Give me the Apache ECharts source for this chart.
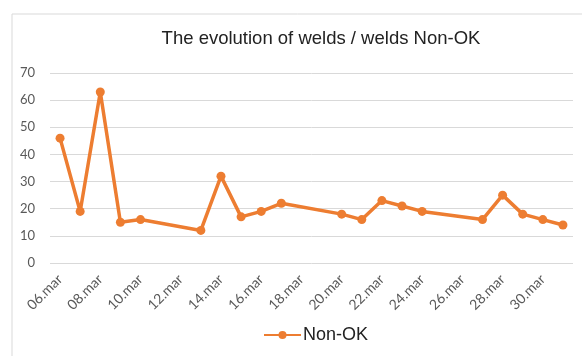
<!DOCTYPE html>
<html>
<head>
<meta charset="utf-8">
<script src="https://cdn.jsdelivr.net/npm/echarts@6/dist/echarts.min.js"></script>
<style>
  html, body { margin: 0; padding: 0; background: #fff; }
  #chart { width: 582px; height: 356px; }
</style>
</head>
<body>
<div id="chart"></div>
<script>
// Days of March shown on the axis (one slot per day)
const days = ['06.mar','07.mar','08.mar','09.mar','10.mar','11.mar','12.mar','13.mar',
  '14.mar','15.mar','16.mar','17.mar','18.mar','19.mar','20.mar','21.mar','22.mar',
  '23.mar','24.mar','25.mar','26.mar','27.mar','28.mar','29.mar','30.mar','31.mar'];

// Non-OK welds per day (null = no record that day)
const nonOk = [46, 19, 63, 15, 16, null, null, 12, 32, 17, 19, 22, null, null,
  18, 16, 23, 21, 19, null, null, 16, 25, 18, 16, 14];

const yTicks = { min: 0, max: 70, interval: 10 };

const chart = echarts.init(document.getElementById('chart'), null, { renderer: 'canvas' });
chart.setOption({
  backgroundColor: '#ffffff',
  animation: false,
  graphic: [{
    type: 'rect',
    shape: { x: 12, y: 14, width: 700, height: 400 },
    style: { fill: 'none', stroke: '#d9d9d9', lineWidth: 1 },
    silent: true
  }],
  title: {
    text: 'The evolution of welds / welds Non-OK',
    left: 316,
    textAlign: 'center',
    top: 24,
    textStyle: { fontFamily: 'Liberation Sans', fontSize: 18.5, fontWeight: 'normal', color: '#222' }
  },
  grid: { left: 50, right: 9, top: 73, bottom: 93, containLabel: false },
  xAxis: {
    type: 'category',
    data: days,
    boundaryGap: true,
    axisLine: { show: false },
    axisTick: { show: false },
    axisLabel: {
      interval: 1,
      rotate: 45,
      margin: 14,
      color: '#595959',
      fontFamily: 'Lato',
      fontSize: 14
    }
  },
  yAxis: {
    type: 'value',
    min: yTicks.min,
    max: yTicks.max,
    interval: yTicks.interval,
    axisLine: { show: false },
    axisTick: { show: false },
    axisLabel: { color: '#595959', fontFamily: 'Lato', fontSize: 13, margin: 15 },
    splitLine: { lineStyle: { color: '#d9d9d9', width: 1 } }
  },
  legend: {
    top: 326,
    left: 263,
    padding: 0,
    itemWidth: 37,
    itemHeight: 10,
    itemGap: 4,
    textStyle: { fontFamily: 'Liberation Sans', fontSize: 18, color: '#222', padding: [0, 0, 0, -3] },
    data: ['Non-OK']
  },
  series: [{
    name: 'Non-OK',
    type: 'line',
    data: nonOk,
    connectNulls: true,
    symbol: 'circle',
    symbolSize: 9,
    lineStyle: { color: '#ED7D31', width: 3.5 },
    itemStyle: { color: '#ED7D31' }
  }]
});
</script>
</body>
</html>
